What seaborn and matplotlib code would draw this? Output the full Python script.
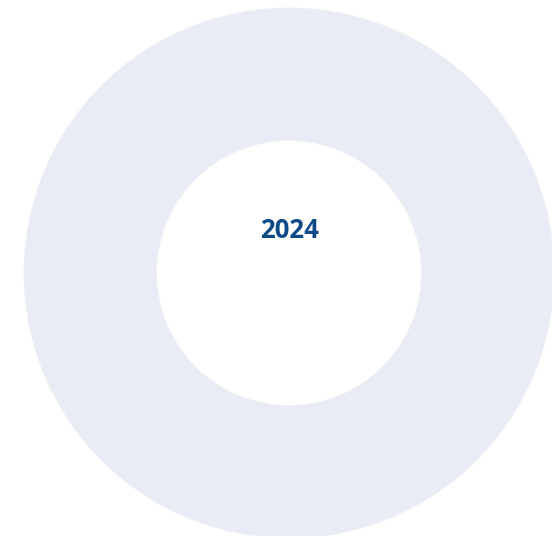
import matplotlib
matplotlib.use("Agg")
import matplotlib.pyplot as plt
import seaborn as sns

# Data (segments all share the same muted colour)
categories = ["A", "B", "C"]
values = [28.3, 1.95, 69.75]
center_label = "2024"

sns.set_theme(style="white")
plt.rcParams['font.family'] = ['Open Sans', 'DejaVu Sans']

fill = "#E9ECF4"
colors = sns.color_palette([fill] * len(values))

W, H = 552, 536
fig = plt.figure(figsize=(W / 100, H / 100), dpi=100)
ax = fig.add_axes([0, 0, 1, 1])

cx, cy, R = 289, 273, 265
ax.pie(values, colors=colors, startangle=90, counterclock=False,
       radius=1.0,
       wedgeprops=dict(width=0.5, edgecolor="#EEF0F6", linewidth=0.6))
ax.set_xlim(-cx / R, (W - cx) / R)
ax.set_ylim(-(H - cy) / R, cy / R)
ax.set_aspect("equal")
ax.axis("off")

ax.text(0, (cy - 230) / R, center_label, ha="center", va="center",
        fontsize=18.5, fontweight="bold", color="#0D4A87")

fig.savefig("out.png", dpi=100)
